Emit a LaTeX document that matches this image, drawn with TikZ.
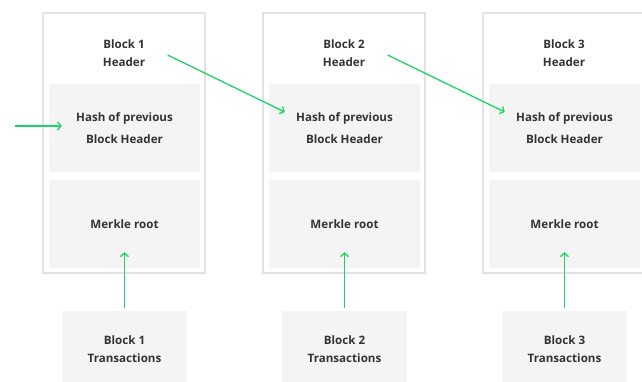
\documentclass[tikz,border=0pt]{standalone}
\usepackage{fontspec}
\setmainfont{Open Sans}
\usetikzlibrary{positioning, arrows.meta}
\definecolor{chain}{HTML}{1ED466}
\definecolor{fieldgray}{HTML}{F4F4F4}
\definecolor{framegray}{HTML}{E2E2E2}
\definecolor{inkgray}{HTML}{333333}
\tikzset{
  frame/.style={draw=framegray, line width=1.4pt, minimum width=162pt, minimum height=260pt},
  field/.style={fill=fieldgray, minimum width=151pt, minimum height=88pt, text=inkgray,
    font=\bfseries\fontsize{11.6}{18}\selectfont, align=center},
  title/.style={text=inkgray, font=\bfseries\fontsize{11.6}{18}\selectfont, align=center},
  link/.style={draw=chain, line width=1.3pt, -{Straight Barb[length=3.5pt,width=8pt]}}
}
\begin{document}
\begin{tikzpicture}[x=1pt, y=-1pt]
\useasboundingbox (0,0) rectangle (642,381);

\node[frame] (blk1) at (124,143) {};
\node[frame] (blk2) at (344,143) {};
\node[frame] (blk3) at (564,143) {};

\node[title] (head1) at (124,53) {Block 1\\Header};
\node[title] (head2) at (344,53) {Block 2\\Header};
\node[title] (head3) at (564,53) {Block 3\\Header};

\node[field, font=\bfseries\fontsize{11.6}{22}\selectfont] (hash1) at (124.5,128) {Hash of previous\\Block Header};
\node[field, font=\bfseries\fontsize{11.6}{22}\selectfont] (hash2) at (344.5,128) {Hash of previous\\Block Header};
\node[field, font=\bfseries\fontsize{11.6}{22}\selectfont] (hash3) at (564.5,128) {Hash of previous\\Block Header};

\node[field] (merk1) at (124.5,224) {Merkle root};
\node[field] (merk2) at (344.5,224) {Merkle root};
\node[field] (merk3) at (564.5,224) {Merkle root};

\node[field, minimum width=125pt, minimum height=76pt] (txs1) at (124.5,349) {Block 1\\Transactions};
\node[field, minimum width=125pt, minimum height=76pt] (txs2) at (344.5,349) {Block 2\\Transactions};
\node[field, minimum width=125pt, minimum height=76pt] (txs3) at (564.5,349) {Block 3\\Transactions};

\coordinate (genesis) at (15,126);
\draw[link] (genesis) -- ([xshift=13pt,yshift=2pt]hash1.west);
\draw[link] ([xshift=19pt,yshift=-2pt]head1.east) -- ([xshift=16pt,yshift=16pt]hash2.west);
\draw[link] ([xshift=19pt,yshift=-2pt]head2.east) -- ([xshift=16pt,yshift=16pt]hash3.west);

\draw[link] ([yshift=3pt]txs1.north) -- ([yshift=16pt]merk1.south);
\draw[link] ([yshift=3pt]txs2.north) -- ([yshift=16pt]merk2.south);
\draw[link] ([yshift=3pt]txs3.north) -- ([yshift=16pt]merk3.south);
\end{tikzpicture}
\end{document}
